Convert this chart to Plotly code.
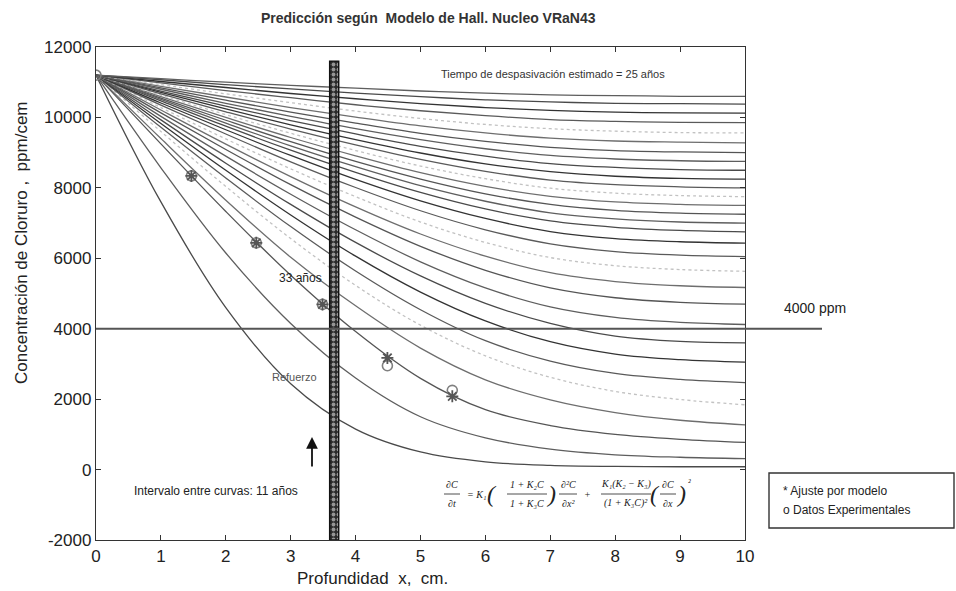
import plotly.graph_objects as go

# ---------------- data ----------------
DEPTH = [0, 1, 2, 3, 4, 5, 6, 7, 8, 9, 10]          # cm
CURVE_YEARS = [11, 22, 33, 44, 55, 66, 77, 88, 99, 110,
               121, 132, 143, 154, 165, 176, 187, 198, 209, 220,
               231, 242, 253, 264, 275, 286, 297, 308, 319, 330]

c011 = [11200, 7600, 4600, 2440, 1150, 500, 220, 120, 90, 80, 80]
c022 = [11200, 8570, 6150, 4150, 2600, 1500, 900, 580, 420, 350, 310]
c033 = [11200, 9250, 7330, 5520, 3920, 2590, 1700, 1250, 1000, 860, 770]
c044 = [11200, 9400, 7650, 6030, 4650, 3450, 2550, 1980, 1620, 1400, 1270]
c055 = [11200, 9600, 8040, 6560, 5230, 4100, 3230, 2620, 2220, 1990, 1840]
c066 = [11200, 9720, 8280, 6900, 5640, 4540, 3660, 3080, 2730, 2560, 2470]
c077 = [11200, 9830, 8500, 7230, 6060, 5040, 4220, 3630, 3280, 3120, 3050]
c088 = [11200, 9930, 8700, 7530, 6450, 5500, 4720, 4150, 3790, 3640, 3600]
c099 = [11200, 10030, 8900, 7820, 6810, 5900, 5160, 4620, 4320, 4180, 4120]
c110 = [11200, 10130, 9090, 8090, 7170, 6340, 5660, 5160, 4880, 4750, 4700]
c121 = [11200, 10210, 9240, 8320, 7460, 6690, 6060, 5590, 5340, 5220, 5170]
c132 = [11200, 10280, 9390, 8540, 7750, 7030, 6450, 6020, 5790, 5680, 5630]
c143 = [11200, 10350, 9530, 8740, 8010, 7350, 6810, 6410, 6190, 6090, 6050]
c154 = [11200, 10410, 9650, 8920, 8240, 7630, 7130, 6760, 6560, 6470, 6430]
c165 = [11200, 10470, 9750, 9070, 8440, 7870, 7400, 7060, 6880, 6790, 6750]
c176 = [11200, 10510, 9840, 9190, 8600, 8060, 7620, 7290, 7120, 7030, 7000]
c187 = [11200, 10550, 9920, 9310, 8750, 8250, 7830, 7530, 7360, 7280, 7250]
c198 = [11200, 10590, 10000, 9430, 8910, 8430, 8040, 7760, 7600, 7530, 7500]
c209 = [11200, 10630, 10080, 9550, 9060, 8620, 8260, 7990, 7850, 7780, 7750]
c220 = [11200, 10670, 10160, 9670, 9220, 8810, 8470, 8220, 8090, 8030, 8000]
c231 = [11200, 10710, 10240, 9790, 9370, 8990, 8680, 8460, 8330, 8270, 8250]
c242 = [11200, 10750, 10320, 9910, 9530, 9180, 8900, 8690, 8580, 8520, 8500]
c253 = [11200, 10800, 10400, 10030, 9680, 9370, 9110, 8920, 8820, 8770, 8750]
c264 = [11200, 10840, 10490, 10150, 9840, 9550, 9320, 9150, 9060, 9020, 9000]
c275 = [11200, 10880, 10580, 10280, 10010, 9760, 9560, 9410, 9330, 9300, 9280]
c286 = [11200, 10930, 10670, 10420, 10180, 9970, 9800, 9680, 9610, 9570, 9560]
c297 = [11200, 10980, 10760, 10560, 10360, 10190, 10050, 9940, 9890, 9860, 9850]
c308 = [11200, 11020, 10850, 10680, 10530, 10390, 10280, 10200, 10150, 10130, 10120]
c319 = [11200, 11070, 10930, 10810, 10690, 10590, 10500, 10440, 10400, 10390, 10380]
c330 = [11200, 11100, 11000, 10910, 10830, 10750, 10690, 10640, 10620, 10600, 10600]

CURVES = [c011, c022, c033, c044, c055, c066, c077, c088, c099, c110,
          c121, c132, c143, c154, c165, c176, c187, c198, c209, c220,
          c231, c242, c253, c264, c275, c286, c297, c308, c319, c330]

# experimental data (o) and model fit (*)
EXP_X = [0, 1.47, 2.47, 3.49, 4.49, 5.49]
EXP_Y = [11200, 8340, 6440, 4690, 2950, 2250]
FIT_X = [1.47, 2.47, 3.49, 4.49, 5.49]
FIT_Y = [8340, 6440, 4690, 3170, 2080]

THRESHOLD = 4000          # ppm
REBAR_X0, REBAR_X1 = 3.60, 3.74
REBAR_BOTTOM, REBAR_TOP = -2000, 11600

X_TICKS = [0, 1, 2, 3, 4, 5, 6, 7, 8, 9, 10]
Y_TICKS = [-2000, 0, 2000, 4000, 6000, 8000, 10000, 12000]
Y_TICK_TEXT = ['-2000', '0', '2000', '4000', '6000', '8000', '10000', '12000']

# ---------------- figure ----------------
W, H = 956, 591
PL, PR, PT, PB = 96, 745, 47, 540
def px(xp):
    return (xp - PL) / (PR - PL)
def py(yp):
    return (PB - yp) / (PB - PT)

FONT = "Liberation Sans, Arial, sans-serif"
SERIF = "Liberation Serif, DejaVu Serif, Times New Roman, serif"
# MATLAB colour cycle as seen on a grey-scale scan (the yellow one is faint and broken)
STYLES = [('#4a4a4a', 'solid'), ('#5e5e5e', 'solid'), ('#555555', 'solid'),
          ('#6e6e6e', 'solid'), ('#c2c2c2', 'dot'), ('#5a5a5a', 'solid'),
          ('#333333', 'solid')]

fig = go.Figure()
for i, (yrs, vals) in enumerate(zip(CURVE_YEARS, CURVES)):
    col, dash = STYLES[i % 7]
    fig.add_trace(go.Scatter(
        x=DEPTH, y=vals, mode='lines', name=f'{yrs} años',
        line=dict(color=col, width=1.3, dash=dash, shape='spline', smoothing=1.0),
        showlegend=False, hoverinfo='skip'))

# rebar (refuerzo)
fig.add_trace(go.Scatter(
    x=[REBAR_X0, REBAR_X1, REBAR_X1, REBAR_X0, REBAR_X0],
    y=[REBAR_BOTTOM, REBAR_BOTTOM, REBAR_TOP, REBAR_TOP, REBAR_BOTTOM],
    mode='lines', fill='toself',
    line=dict(color='#111111', width=1.4),
    fillcolor='#1e1e1e',
    fillpattern=dict(shape='.', bgcolor='#2a2a2a', fgcolor='#ffffff', size=5, solidity=0.45),
    showlegend=False, hoverinfo='skip'))

fig.add_trace(go.Scatter(
    x=EXP_X, y=EXP_Y, mode='markers', name='Datos Experimentales',
    marker=dict(symbol='circle-open', size=10, color='#808080', line=dict(width=1.6, color='#808080')),
    showlegend=False))
fig.add_trace(go.Scatter(
    x=FIT_X, y=FIT_Y, mode='markers', name='Ajuste por modelo',
    marker=dict(symbol='asterisk-open', size=10, color='#555555', line=dict(width=1.8, color='#555555')),
    showlegend=False))

axis_common = dict(showline=True, linecolor='#333333', linewidth=1.4, mirror='ticks',
                   ticks='inside', ticklen=5, tickwidth=1.2, tickcolor='#333333',
                   showgrid=False, zeroline=False,
                   tickfont=dict(family=FONT, size=17, color='#222222'))
fig.update_xaxes(range=[0, 10], tickvals=X_TICKS, ticktext=[str(v) for v in X_TICKS], **axis_common)
fig.update_yaxes(range=[-2000, 12000], tickvals=Y_TICKS, ticktext=Y_TICK_TEXT, **axis_common)

shapes = []
# 4000 ppm line, extends beyond the axes
thr_paper = (THRESHOLD - (-2000)) / 14000
shapes.append(dict(type='line', xref='paper', yref='paper',
                   x0=0, x1=px(822), y0=thr_paper, y1=thr_paper,
                   line=dict(color='#555555', width=2)))
# legend box
shapes.append(dict(type='rect', xref='paper', yref='paper',
                   x0=px(769), x1=px(954), y0=py(528), y1=py(473),
                   line=dict(color='#333333', width=1.4), fillcolor='white'))

anns = []
def text(xp, yp, s, size=12, color='#222222', family=FONT, xanchor='center', style='normal', **kw):
    anns.append(dict(xref='paper', yref='paper', x=px(xp), y=py(yp), text=s,
                     showarrow=False, xanchor=xanchor, yanchor='middle',
                     font=dict(family=family, size=size, color=color, style=style), **kw))

text(428, 18, '<b>Predicción según  Modelo de Hall. Nucleo VRaN43</b>', size=14, color='#333333')
text(372, 578, 'Profundidad  x,  cm.', size=17)
text(21, 243, 'Concentración de Cloruro ,  ppm/cem', size=17, textangle=-90)
text(553, 74, 'Tiempo de despasivación estimado = 25 años', size=11, color='#333333')
text(300, 278, '33 años', size=12)
text(294, 377, 'Refuerzo', size=11, color='#555555')
text(216, 491, 'Intervalo entre curvas: 11 años', size=12)
text(815, 308, '4000 ppm', size=14)
text(781, 491, '* Ajuste por modelo', size=12, xanchor='left')
text(781, 510, 'o Datos Experimentales', size=12, xanchor='left')

# arrow
anns.append(dict(xref='paper', yref='paper', x=px(312), y=py(437), ax=0, ay=38,
                 text=' ', showarrow=True, arrowhead=2, arrowsize=1.3, arrowwidth=1.8,
                 arrowcolor='#111111'))

# equation (two-row layout with fraction bars), unicode sub/superscripts
NUM_Y, DEN_Y, BAR_Y, MID_Y = 484, 503, 494, 494
ES = 10
def eq(xp, yp, s, size=ES):
    text(xp, yp, s, size=size, family=SERIF, style='italic')
def frac(xc, num, den, half):
    eq(xc, NUM_Y, num)
    eq(xc, DEN_Y, den)
    shapes.append(dict(type='line', xref='paper', yref='paper',
                       x0=px(xc - half), x1=px(xc + half), y0=py(BAR_Y), y1=py(BAR_Y),
                       line=dict(color='#222222', width=0.8)))

frac(452, '∂C', '∂t', 8)
eq(476, MID_Y, '= K₁')
eq(492, MID_Y, '(', size=24)
frac(527, '1 + K₂C', '1 + K₃C', 20)
eq(551, MID_Y, ')', size=24)
frac(568, '∂²C', '∂x²', 9)
eq(587, MID_Y, '+')
frac(626, 'K₁(K₂ − K₃)', '(1 + K₃C)²', 25)
eq(655, MID_Y, '(', size=24)
frac(668, '∂C', '∂x', 8)
eq(681, MID_Y, ')', size=24)
eq(689, 482, '²', size=9)

fig.update_layout(
    width=W, height=H,
    margin=dict(l=PL, r=W - PR, t=PT, b=H - PB, pad=0),
    paper_bgcolor='white', plot_bgcolor='white',
    showlegend=False,
    shapes=shapes, annotations=anns,
    font=dict(family=FONT),
)

fig.write_html("out.html")
